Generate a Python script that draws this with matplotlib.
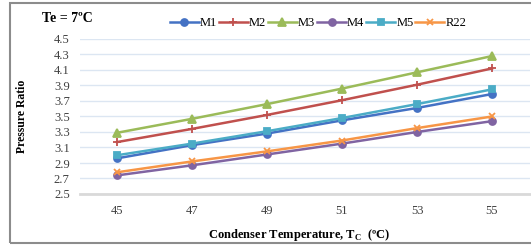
import matplotlib
matplotlib.use("Agg")
from matplotlib import pyplot as plt
from matplotlib.patches import Rectangle

# Data
temps = ["45", "47", "49", "51", "53", "55"]
m1 = [2.96, 3.13, 3.28, 3.45, 3.61, 3.79]
m2 = [3.17, 3.34, 3.52, 3.71, 3.91, 4.12]
m3 = [3.29, 3.47, 3.66, 3.86, 4.07, 4.28]
m4 = [2.74, 2.87, 3.01, 3.15, 3.30, 3.44]
m5 = [3.00, 3.15, 3.31, 3.48, 3.66, 3.85]
r22 = [2.78, 2.92, 3.05, 3.19, 3.35, 3.50]

series = [
	("M1", m1, "#4472c4", "o", 5),
	("M2", m2, "#c0504d", "+", 6),
	("M3", m3, "#9bbb59", "^", 6),
	("M4", m4, "#8064a2", "o", 5),
	("M5", m5, "#4bacc6", "s", 5),
	("R22", r22, "#f79646", "x", 5),
]

plt.rcParams["font.family"] = ["Liberation Serif", "DejaVu Serif"]

fig = plt.figure(figsize=(5.31, 2.46), dpi=100)
ax = fig.add_axes([79.5 / 531, 52 / 246, 450 / 531, 155 / 246])

x = list(range(len(temps)))
for name, vals, col, mk, ms in series:
	ax.plot(x, vals, color=col, marker=mk, markersize=ms, linewidth=1.8,
			markeredgewidth=1.3, label=name)

ax.set_xlim(-0.5, len(temps) - 0.5)
ax.set_ylim(2.5, 4.5)
ax.set_xticks(x)
ax.set_xticklabels(temps)
ax.set_yticks([2.5 + 0.2 * i for i in range(11)])
ax.set_yticklabels([f"{2.5 + 0.2 * i:.1f}" for i in range(11)])
ax.tick_params(length=0, labelsize=9, colors="#404040", pad=7)
ax.tick_params(axis="x", pad=8)
ax.grid(axis="y", color="#dce6f2", linewidth=1)
ax.set_axisbelow(True)
for s in ["top", "right", "left"]:
	ax.spines[s].set_visible(False)
ax.spines["bottom"].set_color("#d9d9d9")
ax.spines["bottom"].set_linewidth(2)

ax.set_ylabel("Pressure Ratio", fontsize=8.5, fontweight="bold", labelpad=19)
fig.text(299 / 531, 1 - 235 / 246,
		"Condenser Temperature, T$_\\mathregular{C}$  (ºC)", fontsize=9,
		fontweight="bold", ha="center", va="center")

fig.text(42 / 531, 1 - 18 / 246, "Te = 7ºC", fontsize=10, fontweight="bold",
		va="center", ha="left")

fig.legend(loc="center", bbox_to_anchor=(318 / 531, 1 - 23 / 246), ncol=6,
		frameon=False, fontsize=9, handlelength=2.3, columnspacing=0.15,
		handletextpad=0.1, borderpad=0)

# Outer border
fig.patches.append(Rectangle((10 / 531, 3 / 246), 530 / 531, 240 / 246,
		transform=fig.transFigure, fill=False, edgecolor="#8c8c8c",
		linewidth=1.5))

fig.savefig("out.png", dpi=100)
